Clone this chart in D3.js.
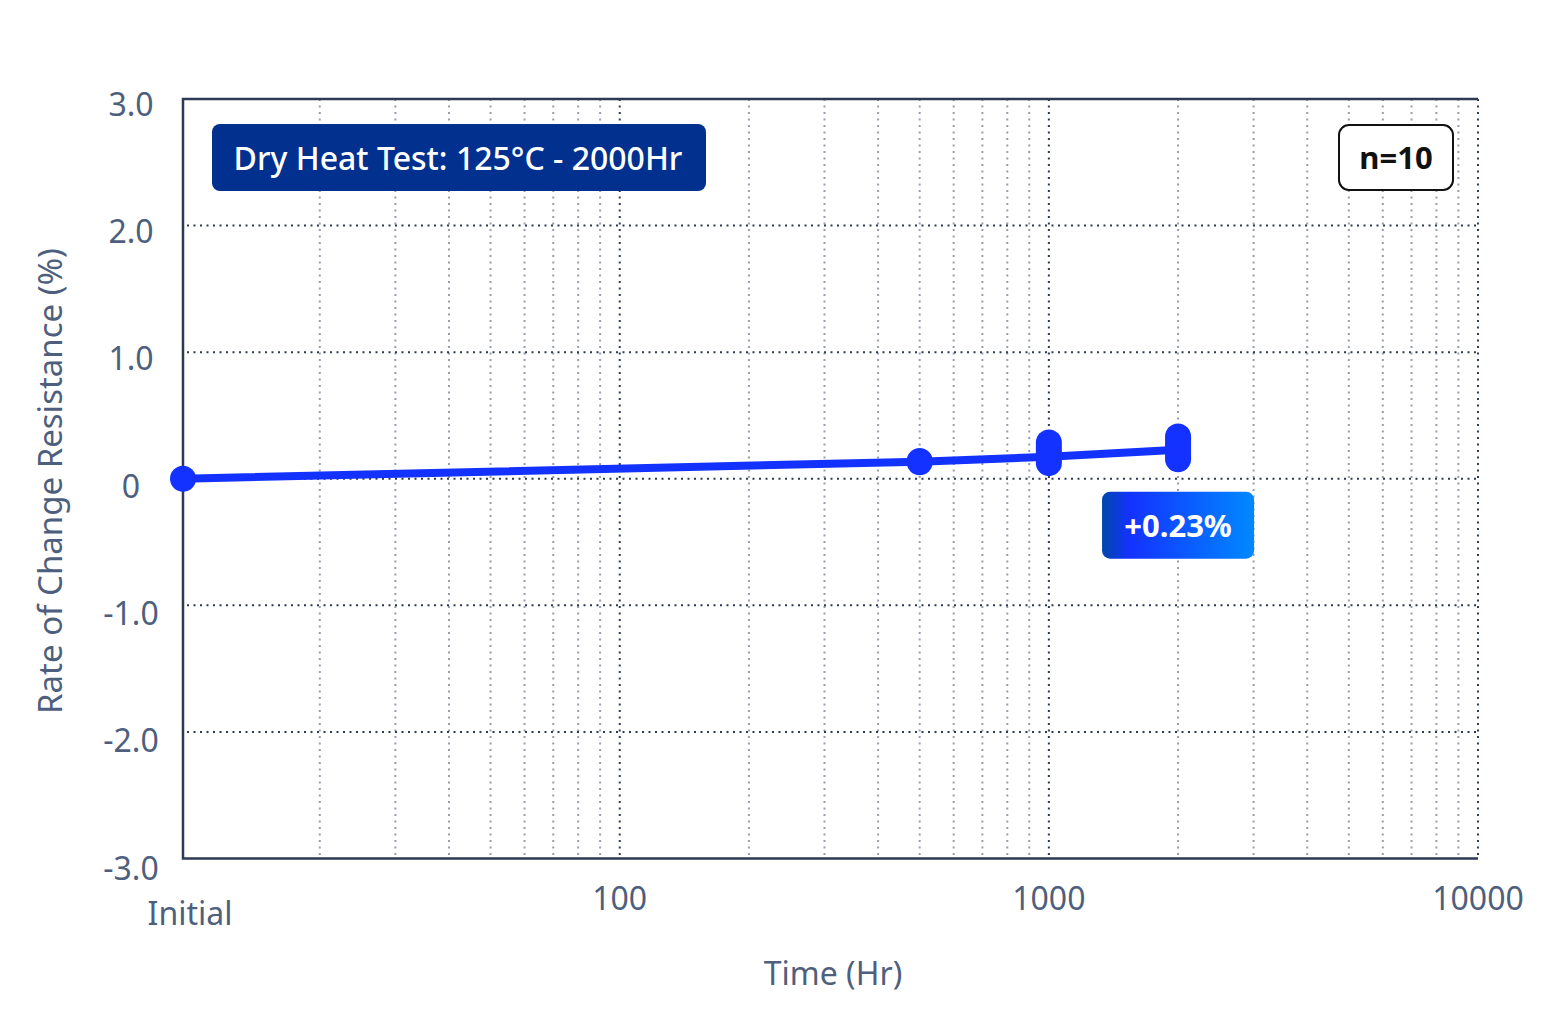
<!DOCTYPE html>
<html>
<head>
<meta charset="utf-8">
<script src="https://cdnjs.cloudflare.com/ajax/libs/d3/7.8.5/d3.min.js"></script>
<style>
  body { margin: 0; background: #fff; }
  svg { display: block; font-family: "Noto Sans", sans-serif; }
</style>
</head>
<body>
<div id="chart"></div>
<script>
// test points (0 = initial reading, drawn at the left edge)
const hours = [0, 500, 1000, 2000];
const meanChange = [0, 0.135, 0.174, 0.23];
const minChange = [0, 0.13, 0.123, 0.154];
const maxChange = [0, 0.14, 0.286, 0.334];

const yTicks = [3, 2, 1, 0, -1, -2, -3];
const yTickLabels = ["3.0", "2.0", "1.0", "0", "-1.0", "-2.0", "-3.0"];
const xMajor = [100, 1000, 10000];
const xMajorLabels = ["100", "1000", "10000"];
const xMinor = [20, 30, 40, 50, 60, 70, 80, 90,
  200, 300, 400, 500, 600, 700, 800, 900,
  2000, 3000, 4000, 5000, 6000, 7000, 8000, 9000];

const titleText = "Dry Heat Test: 125°C - 2000Hr";
const sampleText = "n=10";
const finalText = "+0.23%";

const W = 1560, H = 1030;
const plotL = 183, plotR = 1478, plotT = 99, plotB = 858.5;
const xMin = 9.6;

const ink = "#2e3a52";
const textCol = "#4e5f7e";
const blue = "#1432ff";

const svg = d3.select("#chart").append("svg")
  .attr("width", W)
  .attr("height", H);

const x = d3.scaleLog().domain([xMin, 10000]).range([plotL, plotR]);
const y = d3.scaleLinear().domain([-3, 3]).range([plotB, plotT]);
// tick labels sit on their own slightly stretched spacing in the reference
const yLab = d3.scaleLinear().domain([3, -3]).range([104, 868]);

const xOf = h => x(Math.max(h, xMin));

const defs = svg.append("defs");
const grad = defs.append("linearGradient").attr("id", "lblGrad")
  .attr("x1", "0%").attr("x2", "100%").attr("y1", "0%").attr("y2", "0%");
grad.append("stop").attr("offset", "0%").attr("stop-color", "#0047ab");
grad.append("stop").attr("offset", "18%").attr("stop-color", "#1432ff");
grad.append("stop").attr("offset", "100%").attr("stop-color", "#0089ff");

// grid
svg.append("g").selectAll("line")
  .data(xMinor)
  .enter().append("line")
  .attr("x1", d => x(d)).attr("x2", d => x(d))
  .attr("y1", plotT).attr("y2", plotB)
  .attr("stroke", "#979eab")
  .attr("stroke-width", 2)
  .attr("stroke-dasharray", "2,4.5");

svg.append("g").selectAll("line")
  .data(xMajor)
  .enter().append("line")
  .attr("x1", d => x(d)).attr("x2", d => x(d))
  .attr("y1", plotT).attr("y2", plotB)
  .attr("stroke", ink)
  .attr("stroke-width", 2)
  .attr("stroke-dasharray", "2,4.5");

svg.append("g").selectAll("line")
  .data(yTicks.filter(d => d > -3 && d < 3))
  .enter().append("line")
  .attr("x1", plotL + 4).attr("x2", plotR)
  .attr("y1", d => y(d)).attr("y2", d => y(d))
  .attr("stroke", ink)
  .attr("stroke-width", 2)
  .attr("stroke-dasharray", "2,4.5");

// frame: top, left, bottom solid
svg.append("path")
  .attr("d", `M${plotR},${plotT}H${plotL}V${plotB}H${plotR}`)
  .attr("fill", "none")
  .attr("stroke", ink)
  .attr("stroke-width", 2.5);

// y tick labels
svg.append("g").selectAll("text")
  .data(yTicks)
  .enter().append("text")
  .attr("x", 131)
  .attr("y", d => yLab(d))
  .attr("dy", "0.36em")
  .attr("text-anchor", "middle")
  .attr("font-size", 32)
  .attr("fill", textCol)
  .text((d, i) => yTickLabels[i]);

// x tick labels
svg.append("g").selectAll("text")
  .data(xMajor)
  .enter().append("text")
  .attr("x", d => x(d))
  .attr("y", 910)
  .attr("text-anchor", "middle")
  .attr("font-size", 32)
  .attr("fill", textCol)
  .text((d, i) => xMajorLabels[i]);

svg.append("text")
  .attr("x", x(xMin) + 7)
  .attr("y", 925)
  .attr("text-anchor", "middle")
  .attr("font-size", 32)
  .attr("fill", textCol)
  .text("Initial");

// axis titles
svg.append("text")
  .attr("x", 833)
  .attr("y", 985)
  .attr("text-anchor", "middle")
  .attr("font-size", 32)
  .attr("fill", textCol)
  .text("Time (Hr)");

svg.append("text")
  .attr("transform", "translate(62,481) rotate(-90)")
  .attr("text-anchor", "middle")
  .attr("font-size", 33)
  .attr("fill", textCol)
  .text("Rate of Change Resistance (%)");

// mean line
const pts = hours.map((h, i) => [xOf(h), y(meanChange[i])]);
svg.append("path")
  .attr("d", d3.line()(pts))
  .attr("fill", "none")
  .attr("stroke", blue)
  .attr("stroke-width", 8);

// min-max capsules
const capW = 26;
svg.append("g").selectAll("rect")
  .data(hours)
  .enter().append("rect")
  .attr("x", d => xOf(d) - capW / 2)
  .attr("y", (d, i) => y(maxChange[i]) - capW / 2)
  .attr("width", capW)
  .attr("height", (d, i) => y(minChange[i]) - y(maxChange[i]) + capW)
  .attr("rx", capW / 2)
  .attr("fill", blue);

// title badge
const tb = svg.append("g");
tb.append("rect")
  .attr("x", 212).attr("y", 124)
  .attr("width", 494).attr("height", 67)
  .attr("rx", 8)
  .attr("fill", "#01308f");
tb.append("text")
  .attr("x", 458).attr("y", 158)
  .attr("dy", "0.36em")
  .attr("text-anchor", "middle")
  .attr("font-size", 32)
  .attr("font-weight", 500)
  .attr("fill", "#fff")
  .text(titleText);

// sample size badge
const nb = svg.append("g");
nb.append("rect")
  .attr("x", 1339).attr("y", 125)
  .attr("width", 114).attr("height", 65)
  .attr("rx", 10)
  .attr("fill", "#fff")
  .attr("stroke", "#111")
  .attr("stroke-width", 2);
nb.append("text")
  .attr("x", 1396).attr("y", 158)
  .attr("dy", "0.36em")
  .attr("text-anchor", "middle")
  .attr("font-size", 31)
  .attr("font-weight", 700)
  .attr("fill", "#111")
  .text(sampleText);

// final value label, hung under the last point
const last = hours.length - 1;
const lx = xOf(hours[last]);
const ly = y(meanChange[last]) + 42;
const lb = svg.append("g");
lb.append("rect")
  .attr("x", lx - 76).attr("y", ly)
  .attr("width", 152).attr("height", 67)
  .attr("rx", 8)
  .attr("fill", "url(#lblGrad)");
lb.append("text")
  .attr("x", lx).attr("y", ly + 34)
  .attr("dy", "0.36em")
  .attr("text-anchor", "middle")
  .attr("font-size", 31)
  .attr("font-weight", 700)
  .attr("fill", "#fff")
  .text(finalText);
</script>
</body>
</html>
